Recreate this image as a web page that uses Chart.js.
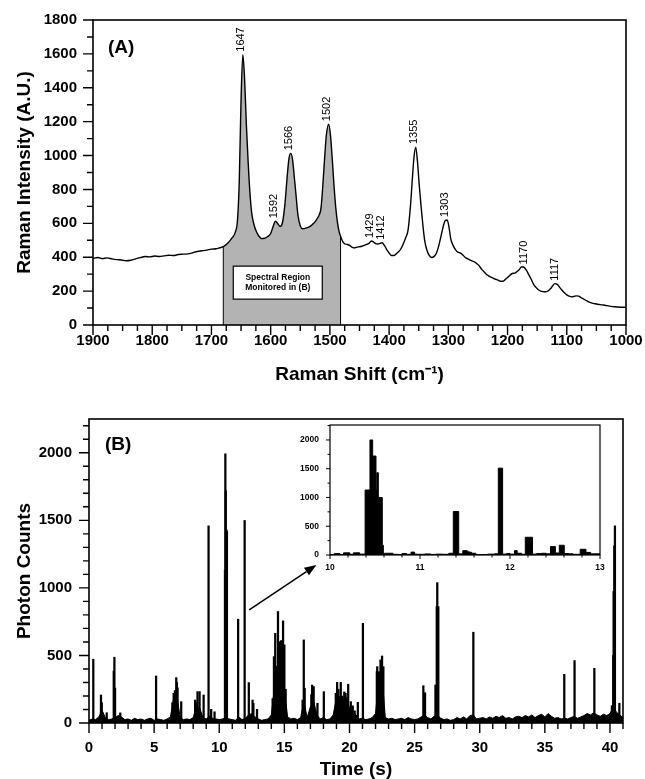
<!DOCTYPE html>
<html>
<head>
<meta charset="utf-8">
<script src="https://cdn.jsdelivr.net/npm/chart.js@4.4.1/dist/chart.umd.min.js"></script>
<style>
  html, body { margin: 0; padding: 0; background: #fff; }
  #wrap { position: relative; width: 645px; height: 779px; }
  canvas { position: absolute; }
  #chartA { left: 0; top: 0; }
  #chartB { left: 0; top: 390px; }
  #inset { left: 290px; top: 415px; }
</style>
</head>
<body>
<div id="wrap">
  <canvas id="chartA" width="645" height="390"></canvas>
  <canvas id="chartB" width="645" height="389"></canvas>
  <canvas id="inset" width="320" height="165"></canvas>
</div>
<script>
// ---- (A) Raman spectrum ----
const ramanShift = [
  1900, 1892, 1884, 1876, 1868, 1860, 1852, 1844, 1836, 1828, 1820, 1812, 1804, 1796, 1788, 1780,
  1772, 1764, 1756, 1748, 1740, 1732, 1724, 1716, 1708, 1700, 1692, 1686, 1680, 1675, 1670, 1665,
  1660, 1656, 1653, 1650, 1647, 1644, 1641, 1638, 1635, 1632, 1628, 1624, 1620, 1615, 1610, 1605,
  1600, 1596, 1592, 1588, 1584, 1580, 1576, 1572, 1569, 1566, 1563, 1560, 1557, 1554, 1550, 1546,
  1542, 1538, 1534, 1530, 1526, 1522, 1518, 1515, 1512, 1509, 1506, 1502, 1499, 1496, 1493, 1490,
  1487, 1484, 1482, 1478, 1474, 1470, 1466, 1462, 1458, 1454, 1450, 1446, 1442, 1438, 1434, 1430,
  1427, 1423, 1419, 1415, 1412, 1408, 1404, 1400, 1396, 1392, 1388, 1384, 1380, 1376, 1372, 1368,
  1364, 1361, 1358, 1355, 1352, 1349, 1346, 1343, 1340, 1336, 1332, 1328, 1324, 1320, 1316, 1312,
  1308, 1305, 1302, 1299, 1296, 1292, 1288, 1284, 1280, 1276, 1272, 1268, 1264, 1260, 1256, 1252,
  1248, 1244, 1240, 1236, 1232, 1228, 1224, 1220, 1216, 1212, 1208, 1204, 1200, 1196, 1192, 1188,
  1184, 1180, 1176, 1172, 1168, 1164, 1160, 1156, 1152, 1148, 1144, 1140, 1136, 1132, 1128, 1124,
  1120, 1116, 1112, 1108, 1104, 1100, 1096, 1092, 1088, 1084, 1080, 1076, 1072, 1068, 1064, 1060,
  1056, 1050, 1044, 1038, 1032, 1026, 1020, 1014, 1008, 1000
];
const ramanIntensity = [
  392, 398, 392, 396, 390, 386, 384, 379, 382, 390, 398, 404, 402, 407, 404, 408,
  412, 410, 416, 418, 420, 426, 434, 438, 442, 448, 450, 456, 462, 475, 492, 515,
  545, 620, 850, 1330, 1595, 1450, 1180, 960, 780, 660, 590, 550, 525, 510, 512, 522,
  540, 580, 612, 598, 582, 605, 710, 880, 985, 1013, 975, 870, 760, 650, 585, 568,
  570, 575, 580, 592, 605, 625, 650, 690, 820, 980, 1120, 1185, 1120, 980, 820, 690,
  600, 545, 525, 490, 478, 475, 468, 458, 455, 460, 462, 465, 470, 476, 482, 496,
  492, 480, 478, 482, 485, 470, 445, 425, 410, 410, 420, 432, 450, 480, 515, 560,
  700, 850, 990, 1050, 960, 820, 700, 590, 500, 440, 410, 398, 405, 425, 470, 530,
  590, 618, 620, 580, 510, 470, 445, 430, 425, 415, 400, 392, 385, 378, 372, 362,
  350, 330, 315, 300, 290, 282, 276, 270, 265, 258, 258, 268, 280, 294, 304, 306,
  316, 328, 344, 340, 322, 296, 270, 240, 222, 208, 200, 197, 196, 200, 212, 230,
  244, 240, 222, 205, 190, 178, 170, 166, 168, 172, 170, 162, 154, 146, 138, 132,
  128, 124, 120, 118, 114, 110, 108, 106, 105, 104
];
const shiftTicks = [1900, 1800, 1700, 1600, 1500, 1400, 1300, 1200, 1100, 1000];
const intensityTicks = [0, 200, 400, 600, 800, 1000, 1200, 1400, 1600, 1800];
const peakLabels = [1647, 1592, 1566, 1502, 1429, 1412, 1355, 1303, 1170, 1117];
const monitoredRegion = [1482, 1680];

// ---- (B) photon counts vs time ----
const baselineStep = 0.25; // s, one value per step from t = 0
const baselineCounts = [
  20, 30, 25, 45, 95, 40, 25, 30,
  40, 55, 45, 25, 30, 20, 35, 25,
  30, 20, 30, 35, 20, 30, 25, 20,
  30, 45, 180, 200, 40, 25, 30, 25,
  40, 130, 110, 40, 30, 50, 35, 30,
  25, 30, 40, 30, 25, 20, 45, 25,
  35, 60, 70, 45, 30, 20, 25, 30,
  60, 280, 360, 330, 250, 45, 30, 35,
  25, 40, 160, 40, 120, 160, 60, 30,
  40, 25, 30, 60, 190, 200, 170, 190,
  110, 70, 60, 30, 35, 25, 30, 40,
  70, 330, 350, 40, 30, 35, 25, 30,
  35, 25, 40, 30, 25, 30, 45, 60,
  40, 30, 50, 60, 35, 25, 30, 20,
  25, 40, 30, 45, 30, 55, 60, 30,
  35, 40, 30, 45, 35, 50, 40, 55,
  35, 40, 30, 45, 50, 40, 55, 45,
  60, 40, 55, 65, 45, 70, 50, 35,
  40, 30, 35, 30, 40, 50, 35, 45,
  55, 70, 60, 75, 60, 50, 65, 55,
  70, 120, 80, 60, 40
];
const spikeTime = [
  0.33, 0.92, 0.98, 1.36, 1.9, 1.95, 2.0, 2.4, 5.15,
  6.4, 6.5, 6.6, 6.7, 6.75, 6.8, 7.08,
  8.15, 8.25, 8.33, 8.49, 8.8, 9.18, 9.38, 9.64,
  10.44, 10.47, 10.5, 10.55, 10.59, 11.45, 11.95, 12.27, 12.56, 12.62, 12.9,
  14.1, 14.2, 14.25, 14.3, 14.4, 14.51, 14.55, 14.64, 14.7, 14.75, 14.82, 14.9, 14.95, 15.0, 15.1,
  16.4, 16.49, 16.56, 17.07, 17.13, 17.25, 17.54, 18.03,
  18.95, 19.05, 19.15, 19.33, 19.45, 19.6, 19.7, 19.9, 20.1, 20.25, 20.4, 20.64,
  21.03, 22.1, 22.13, 22.25, 22.38, 22.5, 22.6,
  25.67, 25.8, 26.6, 26.7, 26.74, 26.82, 29.51,
  36.49, 37.28, 38.8, 40.15, 40.25, 40.28, 40.33, 40.38, 40.72
];
const spikeCounts = [
  472, 207, 150, 76, 385, 487, 259, 75, 348,
  150, 220, 240, 336, 299, 260, 158,
  170, 150, 232, 232, 207, 1459, 101, 83,
  1130, 1993, 1720, 1430, 1420, 768, 1499, 299, 170, 146, 101,
  180, 491, 380, 664, 420, 825, 500, 602, 450, 610, 393, 756, 500, 578, 250,
  170, 615, 257, 210, 281, 270, 146, 232,
  220, 301, 250, 301, 200, 230, 220, 287, 158, 127, 90, 153,
  738, 380, 417, 380, 467, 496, 417,
  276, 224, 281, 862, 1039, 862, 672,
  360, 462, 405, 128, 500, 973, 1311, 1459, 146
];
const timeTicks = [0, 5, 10, 15, 20, 25, 30, 35, 40];
const countTicks = [0, 500, 1000, 1500, 2000];

// ---- inset: 10 - 13 s, binned counts (value holds until next time) ----
const insetTime = [
  10.0, 10.05, 10.11, 10.15, 10.22, 10.26, 10.33, 10.39, 10.444, 10.474, 10.511, 10.52, 10.537,
  10.581, 10.593, 10.605, 10.7, 10.75, 10.8, 10.85, 10.9, 10.94, 10.97, 11.05, 11.12, 11.18,
  11.25, 11.32, 11.37, 11.43, 11.475, 11.526, 11.55, 11.574, 11.62, 11.65, 11.75, 11.83, 11.87,
  11.918, 11.962, 12.0, 12.05, 12.08, 12.13, 12.17, 12.25, 12.296, 12.35, 12.4, 12.45, 12.504,
  12.548, 12.603, 12.652, 12.7, 12.78, 12.844, 12.896, 12.92, 13.0
];
const insetCounts = [
  12, 8, 25, 10, 37, 12, 37, 15, 1130, 2000, 1720, 1130, 1430,
  1000, 170, 10, 30, 12, 10, 25, 12, 50, 15, 12, 18, 10,
  15, 12, 30, 756, 20, 76, 55, 47, 30, 10, 8, 15, 22,
  1510, 15, 25, 15, 76, 30, 12, 308, 15, 25, 30, 20, 146,
  35, 169, 25, 20, 12, 99, 45, 20, 20
];
const insetTimeTicks = [10, 11, 12, 13];
const insetCountTicks = [0, 500, 1000, 1500, 2000];

// ---- arrow from main trace to inset (data coords of panel B) ----
const arrowFrom = [12.3, 837];
const arrowTo = [17.46, 1170];

const FONT = "'Liberation Sans', Arial, sans-serif";
Chart.defaults.font.family = FONT;
Chart.defaults.color = '#000';

function fixTicks(values) {
  return s => { s.ticks = values.map(v => ({ value: v })); };
}
function zeroPad(s) { s.paddingLeft = 0; s.paddingRight = 0; s.paddingTop = 0; s.paddingBottom = 0; }

function frameAndTicks(ctx, chart, spec) {
  const a = chart.chartArea, xs = chart.scales.x, ys = chart.scales.y;
  ctx.strokeStyle = '#000';
  ctx.lineWidth = spec.tickWidth;
  ctx.beginPath();
  const isMajor = (v, step) => Math.abs(v / step - Math.round(v / step)) < 1e-6;
  let n = Math.floor((xs.max - xs.min) / spec.xMinor + 1e-6);
  for (let i = 0; i <= n; i++) {
    const v = xs.min + i * spec.xMinor;
    const px = xs.getPixelForValue(v);
    ctx.moveTo(px, a.bottom);
    ctx.lineTo(px, a.bottom + (isMajor(v, spec.xMajor) ? spec.major : spec.minor));
  }
  n = Math.floor((ys.max - ys.min) / spec.yMinor + 1e-6);
  for (let i = 0; i <= n; i++) {
    const v = ys.min + i * spec.yMinor;
    const py = ys.getPixelForValue(v);
    ctx.moveTo(a.left, py);
    ctx.lineTo(a.left - (isMajor(v, spec.yMajor) ? spec.major : spec.minor), py);
  }
  ctx.stroke();
  ctx.lineWidth = spec.frame;
  ctx.strokeRect(a.left, a.top, a.right - a.left, a.bottom - a.top);
}

const tickFont = { size: 15, weight: 'bold' };
const titleFont = { size: 19, weight: 'bold', lineHeight: 1 };
const plain = v => String(v);

// ================= panel A =================
const spectrum = ramanShift.map((x, i) => ({ x, y: ramanIntensity[i] }));
const shaded = spectrum.filter(p => p.x >= monitoredRegion[0] && p.x <= monitoredRegion[1]);

const decoA = {
  id: 'decoA',
  afterDraw(chart) {
    const { ctx, chartArea: a, scales: { x, y } } = chart;
    ctx.save();
    // edges of the monitored region
    ctx.strokeStyle = '#000';
    ctx.lineWidth = 1;
    monitoredRegion.forEach(v => {
      const i = ramanShift.indexOf(v);
      const px = x.getPixelForValue(v);
      ctx.beginPath();
      ctx.moveTo(px, y.getPixelForValue(0));
      ctx.lineTo(px, y.getPixelForValue(ramanIntensity[i]));
      ctx.stroke();
    });
    // label box
    const cx = x.getPixelForValue(1588), cy = y.getPixelForValue(250);
    ctx.fillStyle = '#fff';
    ctx.fillRect(cx - 44.5, cy - 16.5, 89, 33);
    ctx.lineWidth = 1.2;
    ctx.strokeRect(cx - 44.5, cy - 16.5, 89, 33);
    ctx.fillStyle = '#000';
    ctx.font = `bold 8.5px ${FONT}`;
    ctx.textAlign = 'center';
    ctx.textBaseline = 'middle';
    ctx.fillText('Spectral Region', cx, cy - 5);
    ctx.fillText('Monitored in (B)', cx, cy + 5);
    // peak labels
    ctx.font = `11px ${FONT}`;
    ctx.textAlign = 'left';
    peakLabels.forEach(p => {
      let top = 0;
      ramanShift.forEach((s, i) => { if (Math.abs(s - p) <= 4) top = Math.max(top, ramanIntensity[i]); });
      ctx.save();
      ctx.translate(x.getPixelForValue(p) - 1.5, y.getPixelForValue(top) - 3);
      ctx.rotate(-Math.PI / 2);
      ctx.fillText(String(p), 0, 0);
      ctx.restore();
    });
    ctx.font = `bold 19px ${FONT}`;
    ctx.fillText('(A)', a.left + 15, a.top + 28);
    frameAndTicks(ctx, chart, { xMinor: 25, xMajor: 100, yMinor: 100, yMajor: 200, major: 10, minor: 6, tickWidth: 1.4, frame: 1.6 });
    ctx.restore();
  }
};

new Chart(document.getElementById('chartA'), {
  type: 'line',
  data: {
    datasets: [
      { data: shaded, fill: 'origin', backgroundColor: '#b3b3b3', borderWidth: 0, pointRadius: 0, cubicInterpolationMode: 'monotone', order: 2 },
      { data: spectrum, fill: false, borderColor: '#000', borderWidth: 1.4, pointRadius: 0, cubicInterpolationMode: 'monotone', order: 1 }
    ]
  },
  options: {
    responsive: false,
    animation: false,
    layout: { padding: { top: 20, right: 19, left: 0, bottom: 0 } },
    plugins: { legend: { display: false }, tooltip: { enabled: false } },
    scales: {
      x: {
        type: 'linear', reverse: true, min: 1000, max: 1900,
        afterBuildTicks: fixTicks(shiftTicks),
        ticks: { font: tickFont, padding: 7, maxRotation: 0, autoSkip: false, callback: plain },
        grid: { display: false, drawTicks: false }, border: { display: false },
        title: { display: true, text: 'Raman Shift (cm\u207B\u00B9)', font: titleFont, padding: { top: 0, bottom: 6 } },
        afterFit: s => { s.height = 65; zeroPad(s); }
      },
      y: {
        min: 0, max: 1800,
        afterBuildTicks: fixTicks(intensityTicks),
        ticks: { font: tickFont, padding: 16, autoSkip: false, callback: plain },
        grid: { display: false, drawTicks: false }, border: { display: false },
        title: { display: true, text: 'Raman Intensity (A.U.)', font: titleFont, padding: { top: 15, bottom: 0 } },
        afterFit: s => { s.width = 93; zeroPad(s); }
      }
    }
  },
  plugins: [decoA]
});

// ================= panel B =================
const baseline = baselineCounts.map((c, i) => ({ x: i * baselineStep, y: c }));
const spikes = spikeTime.map((t, i) => ({ x: t, y: spikeCounts[i] }));

const decoB = {
  id: 'decoB',
  afterDraw(chart) {
    const { ctx, chartArea: a, scales: { x, y } } = chart;
    ctx.save();
    // arrow
    const x0 = x.getPixelForValue(arrowFrom[0]), y0 = y.getPixelForValue(arrowFrom[1]);
    const x1 = x.getPixelForValue(arrowTo[0]), y1 = y.getPixelForValue(arrowTo[1]);
    const ang = Math.atan2(y1 - y0, x1 - x0), head = 12, half = 4.5;
    const bx = x1 - head * Math.cos(ang), by = y1 - head * Math.sin(ang);
    ctx.strokeStyle = '#000';
    ctx.fillStyle = '#000';
    ctx.lineWidth = 1.5;
    ctx.beginPath(); ctx.moveTo(x0, y0); ctx.lineTo(bx, by); ctx.stroke();
    ctx.beginPath();
    ctx.moveTo(x1, y1);
    ctx.lineTo(bx + half * Math.sin(ang), by - half * Math.cos(ang));
    ctx.lineTo(bx - half * Math.sin(ang), by + half * Math.cos(ang));
    ctx.closePath(); ctx.fill();
    ctx.font = `bold 19px ${FONT}`;
    ctx.textAlign = 'left';
    ctx.textBaseline = 'middle';
    ctx.fillText('(B)', a.left + 16, a.top + 26);
    frameAndTicks(ctx, chart, { xMinor: 1, xMajor: 5, yMinor: 100, yMajor: 500, major: 10, minor: 6, tickWidth: 1.4, frame: 1.6 });
    ctx.restore();
  }
};

new Chart(document.getElementById('chartB'), {
  type: 'line',
  data: {
    datasets: [
      { type: 'line', data: baseline, fill: 'origin', backgroundColor: '#000', borderColor: '#000', borderWidth: 1, pointRadius: 0, order: 2 },
      { type: 'bar', data: spikes, backgroundColor: '#000', barThickness: 1.6, grouped: false, order: 1 }
    ]
  },
  options: {
    responsive: false,
    animation: false,
    layout: { padding: { top: 29, right: 22, left: 0, bottom: 0 } },
    plugins: { legend: { display: false }, tooltip: { enabled: false } },
    scales: {
      x: {
        type: 'linear', min: 0, max: 41, offset: false,
        afterBuildTicks: fixTicks(timeTicks),
        ticks: { font: tickFont, padding: 16, maxRotation: 0, autoSkip: false, callback: plain },
        grid: { display: false, drawTicks: false, offset: false }, border: { display: false },
        title: { display: true, text: 'Time (s)', font: titleFont, padding: { top: 0, bottom: 0 } },
        afterFit: s => { s.height = 56; zeroPad(s); }
      },
      y: {
        min: 0, max: 2250,
        afterBuildTicks: fixTicks(countTicks),
        ticks: { font: tickFont, padding: 17, autoSkip: false, callback: plain },
        grid: { display: false, drawTicks: false }, border: { display: false },
        title: { display: true, text: 'Photon Counts', font: titleFont, padding: { top: 15, bottom: 0 } },
        afterFit: s => { s.width = 89; zeroPad(s); }
      }
    }
  },
  plugins: [decoB]
});

// ================= inset =================
const insetData = insetTime.map((t, i) => ({ x: t, y: insetCounts[i] }));
const smallFont = { size: 8.5, weight: 'bold' };

new Chart(document.getElementById('inset'), {
  type: 'line',
  data: {
    datasets: [
      { data: insetData, stepped: 'after', fill: 'origin', backgroundColor: '#000', borderColor: '#000', borderWidth: 1, pointRadius: 0 }
    ]
  },
  options: {
    responsive: false,
    animation: false,
    layout: { padding: { top: 10, right: 10, left: 0, bottom: 0 } },
    plugins: { legend: { display: false }, tooltip: { enabled: false } },
    scales: {
      x: {
        type: 'linear', min: 10, max: 13,
        afterBuildTicks: fixTicks(insetTimeTicks),
        ticks: { font: smallFont, padding: 8, maxRotation: 0, autoSkip: false, callback: plain },
        grid: { display: false, drawTicks: false }, border: { display: false },
        afterFit: s => { s.height = 25; zeroPad(s); }
      },
      y: {
        min: 0, max: 2260,
        afterBuildTicks: fixTicks(insetCountTicks),
        ticks: { font: smallFont, padding: 11, autoSkip: false, callback: plain },
        grid: { display: false, drawTicks: false }, border: { display: false },
        afterFit: s => { s.width = 40; zeroPad(s); }
      }
    }
  },
  plugins: [{
    id: 'decoInset',
    afterDraw(chart) {
      chart.ctx.save();
      frameAndTicks(chart.ctx, chart, { xMinor: 0.2, xMajor: 1, yMinor: 250, yMajor: 500, major: 4, minor: 2.5, tickWidth: 1, frame: 1.2 });
      chart.ctx.restore();
    }
  }]
});
</script>
</body>
</html>
